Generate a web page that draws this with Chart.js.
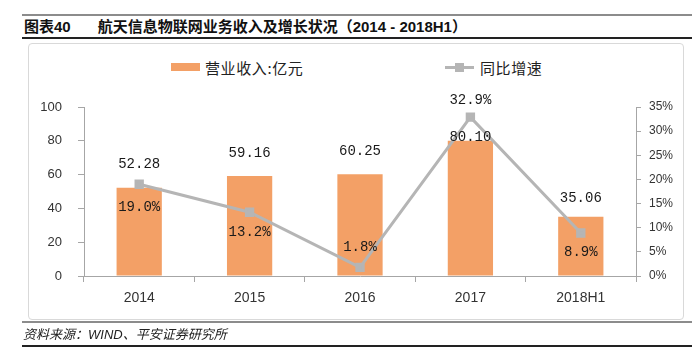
<!DOCTYPE html>
<html>
<head>
<meta charset="utf-8">
<script src="https://cdn.jsdelivr.net/npm/chart.js@4.4.0/dist/chart.umd.min.js"></script>
<style>
  body { margin: 0; background: #fff; font-family: "Liberation Sans", Arial, "Noto Sans CJK SC", sans-serif; }
  #wrap { position: relative; width: 692px; height: 352px; overflow: hidden; }
  #chart { position: absolute; left: 0; top: 0; }
  .hline { position: absolute; left: 22px; right: 0; }
  #title { position: absolute; left: 24px; top: 15px; font-size: 15px; font-weight: bold; color: #111;
           font-family: "Liberation Sans", Arial, "Noto Sans CJK SC", sans-serif; white-space: nowrap; }
  #frame { position: absolute; left: 28px; top: 43px; width: 654px; height: 275px;
           border: 1px solid #d9d9d9; border-radius: 4px; }
  #source { position: absolute; left: 23px; top: 324px; font-size: 13px; font-style: italic; color: #222;
            font-family: "Liberation Sans", Arial, "Noto Sans CJK SC", sans-serif; white-space: nowrap; }
  .leg { position: absolute; top: 57px; font-size: 15px; letter-spacing: 0.6px; color: #222; white-space: nowrap;
         font-family: "Noto Sans CJK SC", sans-serif; }
  .leg .sw { position: absolute; }
</style>
</head>
<body>
<div id="wrap">
  <div class="hline" style="top:14px;height:2px;background:#8c8c8c"></div>
  <div id="title">图表40<span style="margin-left:27px">航天信息物联网业务收入及增长状况（2014 - 2018H1）</span></div>
  <div class="hline" style="top:37px;height:2px;background:#222"></div>
  <div id="frame"></div>
  <div class="leg" style="left:171px">
    <span class="sw" style="left:0;top:6px;width:29px;height:8px;background:#F3A066"></span>
    <span style="padding-left:34px">营业收入:亿元</span>
  </div>
  <div class="leg" style="left:445px">
    <span class="sw" style="left:0;top:9px;width:29px;height:3px;background:#b5b5b5"></span>
    <span class="sw" style="left:10px;top:6px;width:9px;height:9px;background:#b5b5b5"></span>
    <span style="padding-left:35px">同比增速</span>
  </div>
  <canvas id="chart" width="692" height="352"></canvas>
  <div class="hline" style="top:321px;height:2px;background:#8c8c8c"></div>
  <div id="source">资料来源：WIND、平安证券研究所</div>
  <div class="hline" style="top:345px;height:2px;background:#222"></div>
</div>
<script>
const categories = ['2014', '2015', '2016', '2017', '2018H1'];
const revenue = [52.28, 59.16, 60.25, 80.10, 35.06];
const growth = [19.0, 13.2, 1.8, 32.9, 8.9];
const revenueTicks = [0, 20, 40, 60, 80, 100];
const growthTicks = [0, 5, 10, 15, 20, 25, 30, 35];

const ctx = document.getElementById('chart');

// label offsets (px) relative to the bar top / line point
const revenueShift = [-23, -23, -23, -3, -18];
const growthShift = [23, 20, -20, -17, 19];

const valueLabels = {
  id: 'valueLabels',
  afterDatasetsDraw(chart) {
    const c = chart.ctx;
    c.save();
    c.font = '14px "Liberation Mono", monospace';
    c.fillStyle = '#1a1a1a';
    c.textAlign = 'center';
    c.textBaseline = 'middle';
    chart.getDatasetMeta(0).data.forEach((bar, i) => {
      c.fillText(revenue[i].toFixed(2), bar.x, bar.y + revenueShift[i]);
    });
    chart.getDatasetMeta(1).data.forEach((pt, i) => {
      c.fillText(growth[i].toFixed(1) + '%', pt.x, pt.y + growthShift[i]);
    });
    c.restore();
  }
};

const axisGray = '#a6a6a6';

new Chart(ctx, {
  type: 'bar',
  data: {
    labels: categories,
    datasets: [{
      label: '营业收入:亿元',
      data: revenue,
      backgroundColor: '#F3A066',
      barPercentage: 0.41,
      categoryPercentage: 1,
      yAxisID: 'y',
      order: 2
    }, {
      type: 'line',
      label: '同比增速',
      data: growth,
      borderColor: '#b5b5b5',
      backgroundColor: '#b5b5b5',
      borderWidth: 3,
      pointStyle: 'rect',
      pointRadius: 4.5,
      pointHoverRadius: 4.5,
      tension: 0,
      yAxisID: 'y1',
      order: 1
    }]
  },
  options: {
    responsive: false,
    animation: false,
    layout: { padding: { top: 107, left: 0, right: 0, bottom: 0 } },
    plugins: { legend: { display: false }, tooltip: { enabled: false } },
    scales: {
      x: {
        afterFit: (s) => { s.height = 76; },
        grid: { offset: true, drawOnChartArea: false, drawTicks: true, tickLength: 6, color: axisGray },
        border: { color: axisGray },
        ticks: { color: '#333', font: { size: 14, family: '"Liberation Sans", Arial' }, padding: 8 }
      },
      y: {
        position: 'left',
        min: 0, max: 100,
        afterFit: (s) => { s.width = 84; },
        afterBuildTicks: (s) => { s.ticks = revenueTicks.map(v => ({ value: v })); },
        grid: { drawOnChartArea: false, drawTicks: true, tickLength: 6, color: axisGray },
        border: { color: axisGray },
        ticks: { color: '#333', font: { size: 13, family: '"Liberation Sans", Arial' }, padding: 16 }
      },
      y1: {
        position: 'right',
        min: 0, max: 35,
        afterFit: (s) => { s.width = 56; },
        afterBuildTicks: (s) => { s.ticks = growthTicks.map(v => ({ value: v })); },
        grid: { drawOnChartArea: false, drawTicks: true, tickLength: 5, color: axisGray },
        border: { color: axisGray },
        ticks: { color: '#333', font: { size: 12, family: '"Liberation Sans", Arial' }, padding: 8,
                 callback: (v) => v + '%' }
      }
    }
  },
  plugins: [valueLabels]
});
</script>
</body>
</html>
